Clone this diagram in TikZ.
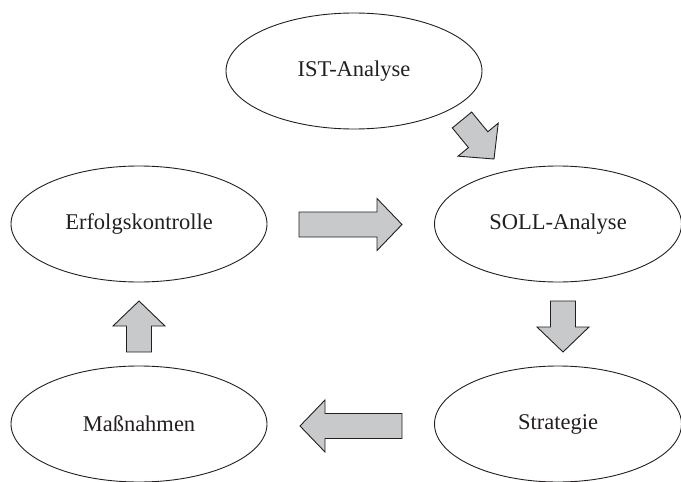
\documentclass[tikz,border=0pt]{standalone}
\usepackage{fontspec}
\setmainfont{Liberation Serif}
\usetikzlibrary{shapes.geometric,calc}
\definecolor{inkc}{HTML}{231F20}
\definecolor{arrowfill}{HTML}{C8C9CA}
\tikzset{
  stage/.style={ellipse, draw=inkc, line width=0.9pt, inner sep=0pt,
    minimum width=256pt, minimum height=116pt, text=inkc,
    font=\fontsize{22.5}{27}\selectfont},
  blockarrow/.style={draw=inkc, line width=0.9pt, fill=arrowfill, line join=miter}
}
\newcommand{\blockarr}[2]{%
  \draw[blockarrow]
    ($(#1)!12.5pt!90:(#2)$) --
    ($($(#2)!25pt!(#1)$)!12.5pt!-90:(#1)$) --
    ($($(#2)!25pt!(#1)$)!26pt!-90:(#1)$) --
    (#2) --
    ($($(#2)!25pt!(#1)$)!26pt!90:(#1)$) --
    ($($(#2)!25pt!(#1)$)!12.5pt!90:(#1)$) --
    ($(#1)!12.5pt!-90:(#2)$) -- cycle;}
\begin{document}
\begin{tikzpicture}[x=1pt,y=-1pt]
\useasboundingbox (0,0) rectangle (681,482);
\node[stage] (ist) at (354,71) {IST-Analyse};
\node[stage] (erf) at (139,224) {Erfolgskontrolle};
\node[stage, minimum width=247pt] (soll) at (558,224) {SOLL-Analyse};
\node[stage] (mass) at (139,424) {Maßnahmen};
\node[stage, minimum width=247pt] (strat) at (558,424) {Strategie};
\coordinate (a1s) at (462,120);
\coordinate (a1e) at (494,159);
\coordinate (a2s) at (299,224.5);
\coordinate (a2e) at (402,224.5);
\coordinate (a3s) at (563,301);
\coordinate (a3e) at (563,352);
\coordinate (a4s) at (402,426);
\coordinate (a4e) at (300,426);
\coordinate (a5s) at (139,352);
\coordinate (a5e) at (139,301);
\blockarr{a1s}{a1e}
\blockarr{a2s}{a2e}
\blockarr{a3s}{a3e}
\blockarr{a4s}{a4e}
\blockarr{a5s}{a5e}
\end{tikzpicture}
\end{document}
